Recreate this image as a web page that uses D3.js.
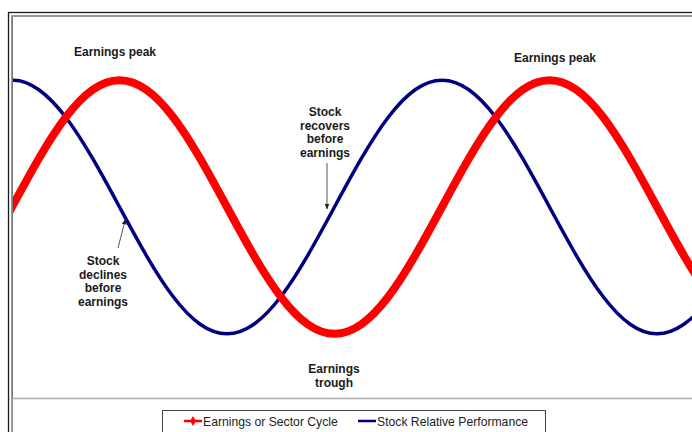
<!DOCTYPE html>
<html>
<head>
<meta charset="utf-8">
<script src="https://cdn.jsdelivr.net/npm/d3@7"></script>
<style>
  html, body { margin: 0; padding: 0; background: #fff; }
  svg { display: block; font-family: Arial, "Liberation Sans", sans-serif; }
</style>
</head>
<body>
<svg id="chart" width="692" height="432"></svg>
<script>
// Step index along the cycle (1/16 of a cycle per step)
const steps = [-1,0,1,2,3,4,5,6,7,8,9,10,11,12,13,14,15,16,17,18,19,20,21,22,23,24,25,26,27];
// Earnings or Sector Cycle (relative index, 0-100)
const earnings = [37.3,50,62.7,73.5,80.7,83.2,80.7,73.5,62.7,50,37.3,26.5,19.3,16.8,19.3,26.5,37.3,50,62.7,73.5,80.7,83.2,80.7,73.5,62.7,50,37.3,26.5,19.3];
// Stock Relative Performance (relative index, 0-100)
const stock = [80.7,83.2,80.7,73.5,62.7,50,37.3,26.5,19.3,16.8,19.3,26.5,37.3,50,62.7,73.5,80.7,83.2,80.7,73.5,62.7,50,37.3,26.5,19.3,16.8,19.3,26.5,37.3];
const seriesNames = ["Earnings or Sector Cycle", "Stock Relative Performance"];
const seriesColors = ["#ff0000", "#000080"];

const svg = d3.select("#chart");
const W = 692, H = 432;
const plot = {left: 12, top: 16, right: 720, bottom: 398};

const x = d3.scaleLinear().domain([0, 26]).range([12, 12 + 26 * 26.875]);
const y = d3.scaleLinear().domain([0, 100]).range([plot.bottom, plot.top]);

// chart frame
svg.append("rect").attr("x", 8.5).attr("y", 12.5).attr("width", 720).attr("height", 440)
  .attr("fill", "#fff").attr("stroke", "#1a1a1a").attr("stroke-width", 1.3);
svg.append("line").attr("x1", 12).attr("x2", 12).attr("y1", 15).attr("y2", H)
  .attr("stroke", "#999").attr("stroke-width", 2);
svg.append("line").attr("x1", 11).attr("x2", W).attr("y1", 16).attr("y2", 16)
  .attr("stroke", "#999").attr("stroke-width", 2);
// plot bottom
svg.append("line").attr("x1", 12).attr("x2", W).attr("y1", 398.5).attr("y2", 398.5)
  .attr("stroke", "#b0b0b0").attr("stroke-width", 1.5);
svg.append("line").attr("x1", 12.5).attr("x2", 12.5).attr("y1", 17).attr("y2", 398)
  .attr("stroke", "#777").attr("stroke-width", 1);

svg.append("clipPath").attr("id", "clip").append("rect")
  .attr("x", 13).attr("y", 17).attr("width", W - 13).attr("height", plot.bottom - 17);

const rows = steps.map((s, i) => ({s, e: earnings[i], k: stock[i]}));
const lineE = d3.line().x(d => x(d.s)).y(d => y(d.e)).curve(d3.curveNatural);
const lineK = d3.line().x(d => x(d.s)).y(d => y(d.k)).curve(d3.curveNatural);

const g = svg.append("g").attr("clip-path", "url(#clip)");
g.append("path").datum(rows).attr("d", lineK).attr("fill", "none")
  .attr("stroke", seriesColors[1]).attr("stroke-width", 3.5);
g.append("path").datum(rows).attr("d", lineE).attr("fill", "none")
  .attr("stroke", seriesColors[0]).attr("stroke-width", 8);

// annotations
const ann = svg.append("g").attr("font-weight", "bold").attr("font-size", 12)
  .attr("fill", "#1a1a1a").attr("text-anchor", "middle");
function block(lines, cx, y0, lh) {
  lines.forEach((t, i) => ann.append("text").attr("x", cx).attr("y", y0 + i * lh).text(t));
}
block(["Earnings peak"], 115, 56, 13.6);
block(["Earnings peak"], 555, 62, 13.6);
block(["Stock", "recovers", "before", "earnings"], 325, 116, 13.5);
block(["Stock", "declines", "before", "earnings"], 103, 265, 13.7);
block(["Earnings", "trough"], 334, 373, 14);

// arrows
svg.append("defs").append("marker").attr("id", "ah").attr("viewBox", "0 0 10 10")
  .attr("refX", 9).attr("refY", 5).attr("markerWidth", 6).attr("markerHeight", 6)
  .attr("orient", "auto").append("path").attr("d", "M0,1 L10,5 L0,9 Z").attr("fill", "#222");
svg.append("line").attr("x1", 327).attr("y1", 163).attr("x2", 327).attr("y2", 209)
  .attr("stroke", "#555").attr("stroke-width", 1).attr("marker-end", "url(#ah)");
svg.append("line").attr("x1", 118).attr("y1", 248).attr("x2", 125.5).attr("y2", 219)
  .attr("stroke", "#555").attr("stroke-width", 1).attr("marker-end", "url(#ah)");

// legend
const lg = svg.append("g");
lg.append("rect").attr("x", 162.5).attr("y", 410.5).attr("width", 383).attr("height", 30)
  .attr("fill", "#fff").attr("stroke", "#444").attr("stroke-width", 1);
const items = [{x0: 184, tx: 203}, {x0: 358, tx: 377}];
items.forEach((it, i) => {
  lg.append("line").attr("x1", it.x0).attr("x2", it.x0 + 18).attr("y1", 421).attr("y2", 421)
    .attr("stroke", seriesColors[i]).attr("stroke-width", 2.5);
  if (i === 0) {
    lg.append("path").attr("d", d3.symbol(d3.symbolDiamond, 28)()).attr("transform", `translate(${it.x0 + 9},421)`)
      .attr("fill", seriesColors[i]);
  }
  lg.append("text").attr("x", it.tx).attr("y", 425.5).attr("font-size", 12.2).attr("fill", "#222")
    .text(seriesNames[i]);
});
</script>
</body>
</html>
